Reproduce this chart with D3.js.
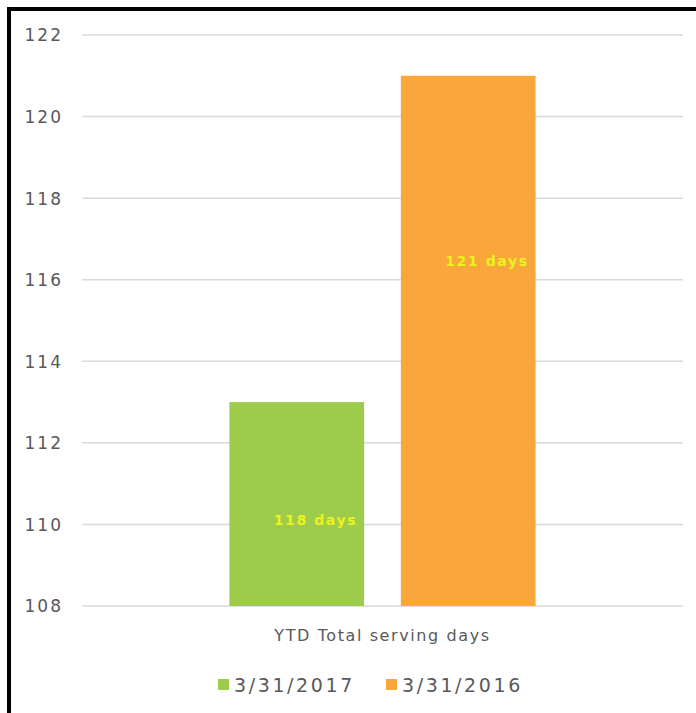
<!DOCTYPE html>
<html>
<head>
<meta charset="utf-8">
<script src="https://cdn.jsdelivr.net/npm/d3@7/dist/d3.min.js"></script>
<style>
  html, body { margin: 0; padding: 0; background: #fff; }
  svg { display: block; }
  text { font-family: "DejaVu Sans", sans-serif; }
</style>
</head>
<body>
<svg id="chart" width="696" height="713"></svg>
<script>
// Data
const categories = ["YTD Total serving days"];
const seriesNames = ["3/31/2017", "3/31/2016"];
const seriesValues = [113, 121];
const dataLabels = ["118 days", "121 days"];
const yTicks = [108, 110, 112, 114, 116, 118, 120, 122];
const colors = ["#9dcb4b", "#f9a63a"];

const svg = d3.select("#chart");
const W = 696, H = 713;

// Frame: dark rule along top and left edges
svg.append("rect").attr("x", 0).attr("y", 0).attr("width", W).attr("height", H).attr("fill", "#fff");
svg.append("rect").attr("x", 7).attr("y", 7).attr("width", W - 7).attr("height", 4).attr("fill", "#000");
svg.append("rect").attr("x", 7).attr("y", 7).attr("width", 4).attr("height", H - 7).attr("fill", "#000");

const plot = { left: 82, right: 683, top: 35, bottom: 606 };

const y = d3.scaleLinear().domain([108, 122]).range([plot.bottom, plot.top]);
const x0 = d3.scaleBand().domain(categories).range([plot.left, plot.right]);
const x1 = d3.scaleBand().domain(seriesNames).range([0, x0.bandwidth()]).paddingInner(0.214).paddingOuter(0.86);

// Gridlines
svg.append("g")
  .selectAll("line")
  .data(yTicks)
  .join("line")
  .attr("x1", plot.left).attr("x2", plot.right)
  .attr("y1", d => y(d)).attr("y2", d => y(d))
  .attr("stroke", "#d9d9d9").attr("stroke-width", 1.5);

// Y axis tick labels
const yAxis = d3.axisLeft(y).tickValues(yTicks).tickSize(0).tickPadding(0);
const gy = svg.append("g").attr("transform", `translate(63,0)`).call(yAxis);
gy.select(".domain").remove();
gy.selectAll("text")
  .attr("fill", "#595959")
  .style("font-size", "17px")
  .style("letter-spacing", "2px")
  .attr("dy", "0.35em");

// Bars
const bars = seriesNames.map((s, i) => ({ series: s, value: seriesValues[i], label: dataLabels[i], color: colors[i] }));
const gBars = svg.append("g").attr("transform", `translate(${x0(categories[0])},0)`);
gBars.selectAll("rect")
  .data(bars)
  .join("rect")
  .attr("x", d => x1(d.series))
  .attr("width", x1.bandwidth())
  .attr("y", d => y(d.value))
  .attr("height", d => y(108) - y(d.value))
  .attr("fill", d => d.color);

// Data labels, right-aligned inside each bar
const labelDepth = [0.58, 0.35];
gBars.selectAll("text.dl")
  .data(bars)
  .join("text")
  .attr("class", "dl")
  .attr("x", d => x1(d.series) + x1.bandwidth() - 7)
  .attr("y", (d, i) => y(d.value) + labelDepth[i] * (y(108) - y(d.value)))
  .attr("dy", "0.35em")
  .attr("text-anchor", "end")
  .attr("fill", "#eef21c")
  .style("font-size", "14px")
  .style("font-weight", "bold")
  .style("letter-spacing", "1.6px")
  .text(d => d.label);

// Category axis label
svg.append("text")
  .attr("x", x0(categories[0]) + x0.bandwidth() / 2)
  .attr("y", 635)
  .attr("dy", "0.35em")
  .attr("text-anchor", "middle")
  .attr("fill", "#595959")
  .style("font-size", "16px")
  .style("letter-spacing", "1.6px")
  .text(categories[0]);

// Legend
const legendItems = [
  { name: seriesNames[0], color: colors[0], x: 218 },
  { name: seriesNames[1], color: colors[1], x: 386 }
];
const gLeg = svg.append("g");
legendItems.forEach(it => {
  gLeg.append("rect").attr("x", it.x).attr("y", 679).attr("width", 11).attr("height", 11).attr("fill", it.color);
  gLeg.append("text")
    .attr("x", it.x + 16)
    .attr("y", 685)
    .attr("dy", "0.35em")
    .attr("fill", "#595959")
    .style("font-size", "19px")
    .style("letter-spacing", "2.6px")
    .text(it.name);
});
</script>
</body>
</html>
